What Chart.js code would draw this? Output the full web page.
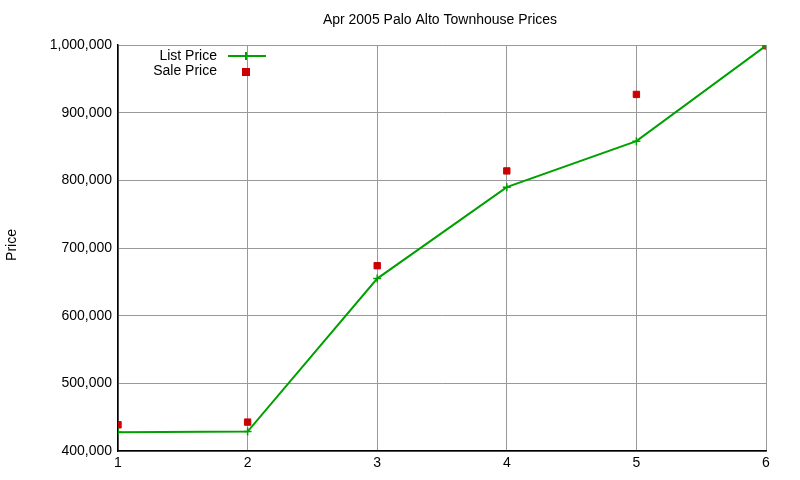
<!DOCTYPE html><html><head><script src="https://cdn.jsdelivr.net/npm/chart.js@4"></script>
<style>body{margin:0;background:#fff}</style></head><body><canvas id="c" width="800" height="480"></canvas>
<script>
const xValues=[1,2,3,4,5,6];
const listPrice=[428000,429000,655000,790000,858000,999000];
const salePrice=[439000,443000,674000,814000,927000,999000];
const yTicks=[400000,500000,600000,700000,800000,900000,1000000];
const F='"Liberation Sans", Arial, sans-serif';
const legendPlugin={id:'lg',afterDraw(ch){const c=ch.ctx;c.save();c.font='14px '+F;c.fillStyle='#000';c.textAlign='right';c.textBaseline='middle';
c.fillText('List Price',217,56);c.fillText('Sale Price',217,71);
c.strokeStyle='#00a000';c.lineWidth=2;c.beginPath();c.moveTo(228,56);c.lineTo(266,56);c.moveTo(246,52);c.lineTo(246,60);c.stroke();
c.fillStyle='#cc0000';c.fillRect(242,68,8,8);
c.fillStyle='#000';c.textAlign='center';c.fillText('Apr 2005 Palo Alto Townhouse Prices',440,20);
c.translate(12,245);c.rotate(-Math.PI/2);c.fillText('Price',0,0);c.restore();}};
new Chart(document.getElementById('c'),{type:'scatter',data:{datasets:[
{label:'List Price',data:xValues.map((x,i)=>({x,y:listPrice[i]})),showLine:true,borderColor:'#00a000',backgroundColor:'#00a000',borderWidth:2,pointStyle:'cross',pointRadius:4,pointBorderWidth:1.5,tension:0},
{label:'Sale Price',data:xValues.map((x,i)=>({x,y:salePrice[i]})),backgroundColor:'#cc0000',borderColor:'#cc0000',pointStyle:'rect',pointRadius:4.5,showLine:false}]},
options:{responsive:false,animation:false,devicePixelRatio:1,layout:{padding:{left:0,right:34,top:45,bottom:4}},
plugins:{legend:{display:false},tooltip:{enabled:false}},
scales:{x:{type:'linear',min:1,max:6,afterBuildTicks:a=>{a.ticks=xValues.map(v=>({value:v}))},grid:{color:'#999',lineWidth:1,drawTicks:false,borderDash:[2,3]},border:{color:'#000',width:1.5},ticks:{color:'#000',font:{size:14,family:F},padding:4}},
y:{min:400000,max:1000000,afterBuildTicks:a=>{a.ticks=yTicks.map(v=>({value:v}))},afterFit:a=>{a.width=118},grid:{color:'#999',drawTicks:false,borderDash:[2,3]},border:{color:'#000',width:1.5},ticks:{color:'#000',font:{size:14,family:F},padding:6}}}},
plugins:[legendPlugin]});
</script></body></html>
